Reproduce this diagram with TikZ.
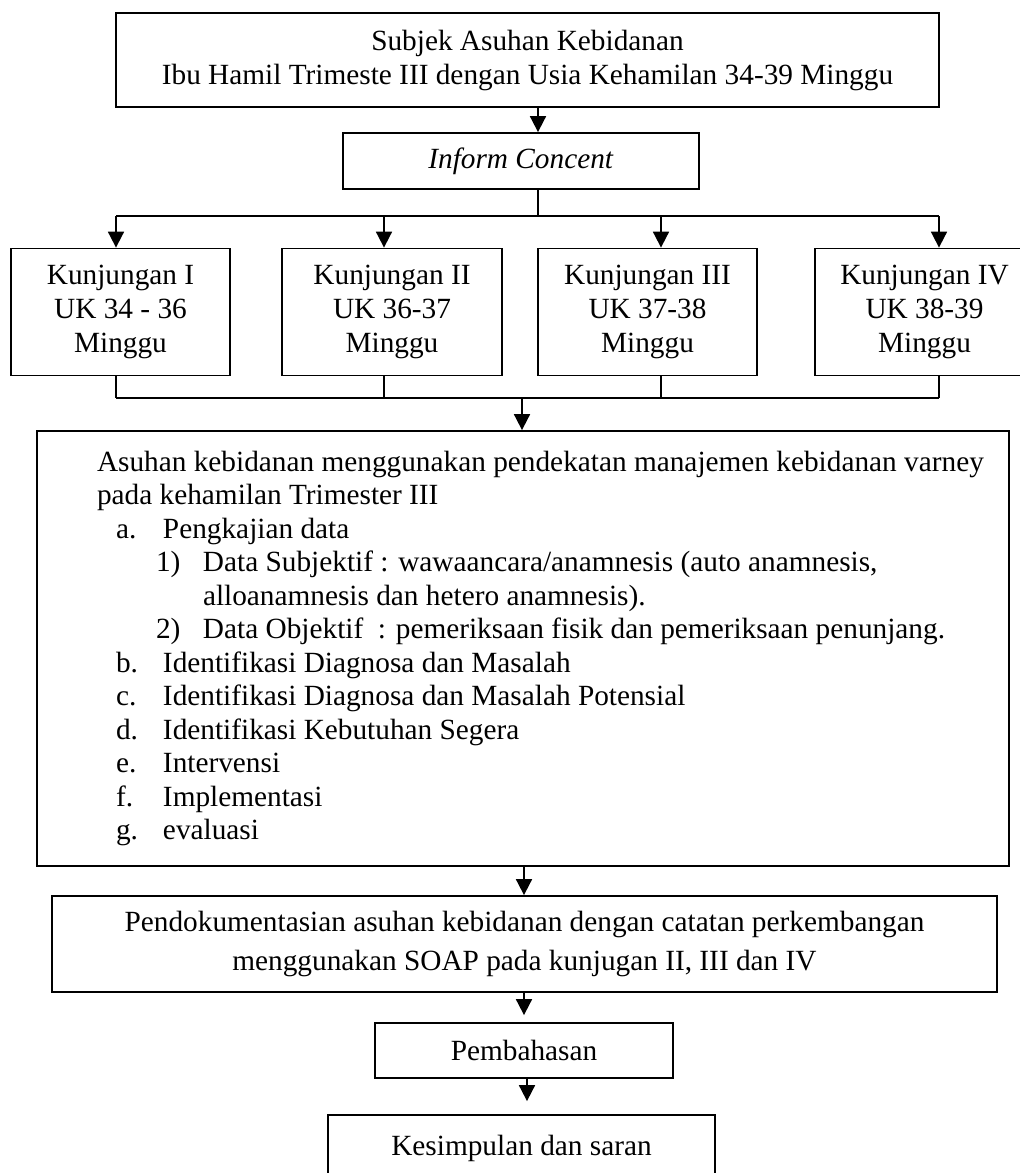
\documentclass[tikz,border=0pt]{standalone}
\usepackage{fontspec}
\setmainfont{Liberation Serif}
\usetikzlibrary{positioning}
\usetikzlibrary{arrows.meta}

\newcommand{\butir}[2]{\hspace*{9.5pt}\makebox[23.5pt][l]{#1}#2}
\newcommand{\subbutir}[2]{\hspace*{29.5pt}\makebox[23.5pt][l]{#1}#2}

\begin{document}
\begin{tikzpicture}[x=0.5pt, y=-0.5pt, line width=0.9pt, kotak/.style={draw, font=\fontsize{14.65pt}{17pt}\selectfont, align=center, inner sep=0pt}]
\tikzstyle{teks}=[font=\fontsize{14.65pt}{16.75pt}\selectfont, inner sep=0pt]
\tikzset {>={Triangle[length=8pt,width=8pt]}}

\useasboundingbox (0,0) rectangle (1020,1173);
\clip (0,0) rectangle (1020,1173);

\node (subjek) [kotak, minimum width=411.5pt, minimum height=47pt] at (527.5,60) {Subjek Asuhan Kebidanan\\Ibu Hamil Trimeste III dengan Usia Kehamilan 34-39 Minggu};
\node (inform) [kotak, minimum width=178pt, minimum height=28pt] at (521,161) {\textit{Inform Concent}};
\node (k1) [kotak, minimum width=109.5pt, minimum height=63.5pt] at (120.5,312) {Kunjungan I\\UK 34 - 36\\Minggu};
\node (k2) [kotak, minimum width=110pt, minimum height=63.5pt] at (392,312) {Kunjungan II\\UK 36-37\\Minggu};
\node (k3) [kotak, minimum width=109.5pt, minimum height=63.5pt] at (647.5,312) {Kunjungan III\\UK 37-38\\Minggu};
\node (k4) [kotak, minimum width=109.5pt, minimum height=63.5pt] at (924.5,312) {Kunjungan IV\\UK 38-39\\Minggu};
\node (asuhan) [kotak, minimum width=486pt, minimum height=217.5pt] at (523,648.5) {};
\node (asuhantxt) [teks, anchor=west, align=left] at ([xshift=30pt]asuhan.west) {Asuhan kebidanan menggunakan pendekatan manajemen kebidanan varney\\
pada kehamilan Trimester III\\
\butir{a.}{Pengkajian data}\\
\subbutir{1)}{Data Subjektif : wawaancara/anamnesis (auto anamnesis,}\\
\hspace*{53pt}alloanamnesis dan hetero anamnesis).\\
\subbutir{2)}{Data Objektif \ : pemeriksaan fisik dan pemeriksaan penunjang.}\\
\butir{b.}{Identifikasi Diagnosa dan Masalah}\\
\butir{c.}{Identifikasi Diagnosa dan Masalah Potensial}\\
\butir{d.}{Identifikasi Kebutuhan Segera}\\
\butir{e.}{Intervensi}\\
\butir{f.}{Implementasi}\\
\butir{g.}{evaluasi}};
\node (pendok) [kotak, minimum width=472.5pt, minimum height=48pt] at (524.5,944) {Pendokumentasian asuhan kebidanan dengan catatan perkembangan\\[2.5pt]menggunakan SOAP pada kunjugan II, III dan IV};
\node (bahas) [kotak, minimum width=149pt, minimum height=27.5pt] at (524,1050.5) {Pembahasan};
\node (simpul) [kotak, minimum width=193.5pt, minimum height=33pt] at (521.5,1148) {Kesimpulan dan saran};

% atas
\coordinate (cabang) at (538,216);
\draw [->] (subjek.south -| cabang) -- (inform.north -| cabang);
\draw (inform.south -| cabang) -- (cabang);

% kunjungan
\foreach \k/\x in {k1/116, k2/384, k3/661, k4/939} {
  \coordinate (atas\k) at (\x,216);
  \coordinate (bawah\k) at (\x,398);
  \draw [->] (atas\k) -- (\k.north -| atas\k);
  \draw (\k.south -| bawah\k) -- (bawah\k);
}
\draw (atask1) -- (atask4);
\draw (bawahk1) -- (bawahk4);

% bawah
\coordinate (gabung) at (522,398);
\draw [->] (gabung) -- (asuhan.north -| gabung);
\coordinate (poros) at (524,0);
\draw [->] (asuhan.south -| poros) -- (pendok.north -| poros);
\draw [->, shorten >=3.5pt] (pendok.south -| poros) -- (bahas.north -| poros);
\coordinate (poros2) at (527,0);
\draw [->, shorten >=6.5pt] (bahas.south -| poros2) -- (simpul.north -| poros2);
\end{tikzpicture}
\end{document}
